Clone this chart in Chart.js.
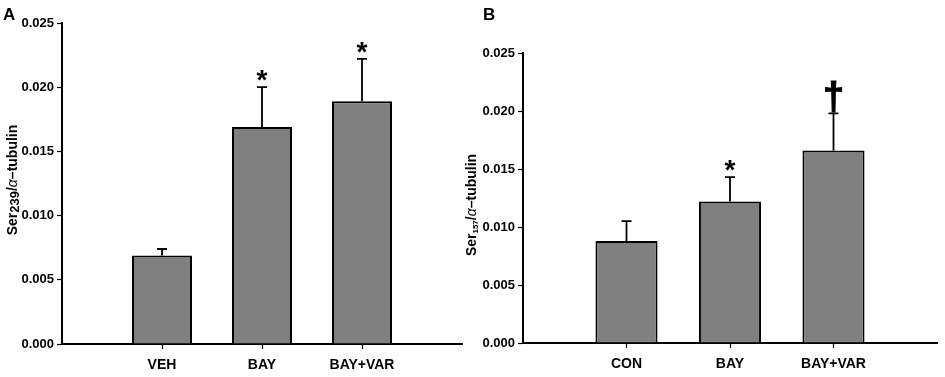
<!DOCTYPE html>
<html>
<head>
<meta charset="utf-8">
<script src="https://cdn.jsdelivr.net/npm/chart.js@4/dist/chart.umd.min.js"></script>
<style>
  body { margin: 0; background: #fff; }
  #wrap { position: relative; width: 945px; height: 377px; overflow: hidden; }
  canvas { position: absolute; top: 0; }
  #chartA { left: 0; }
  #chartB { left: 455px; }
</style>
</head>
<body>
<div id="wrap">
  <canvas id="chartA" width="470" height="377"></canvas>
  <canvas id="chartB" width="490" height="377"></canvas>
</div>
<script>
// panel A
const groupsA = ['VEH', 'BAY', 'BAY+VAR'];
const meansA = [0.0069, 0.0169, 0.0189];
const errorsA = [0.0005, 0.0031, 0.0033];
const marksA = ['', '*', '*'];

// panel B
const groupsB = ['CON', 'BAY', 'BAY+VAR'];
const meansB = [0.0088, 0.0122, 0.0166];
const errorsB = [0.0017, 0.0021, 0.0032];
const marksB = ['', '*', '\u2020'];

const yTickValues = [0, 0.005, 0.010, 0.015, 0.020, 0.025];

const FONT = "'Liberation Sans', Arial, sans-serif";

// blank slot on each side so the bars sit at 1, 2, 3 on a 0..4 axis
function padded(arr, blank) {
    return [blank].concat(arr, [blank]);
}

const errorBarPlugin = {
    id: 'errorBars',
    afterDatasetsDraw(chart, args, opts) {
        const ctx = chart.ctx;
        const meta = chart.getDatasetMeta(0);
        const yScale = chart.scales.y;
        ctx.save();
        ctx.strokeStyle = '#000';
        ctx.lineWidth = 1.8;
        opts.errors.forEach((err, i) => {
            const bar = meta.data[i + 1];
            const mean = opts.means[i];
            const yTop = yScale.getPixelForValue(mean + err);
            ctx.beginPath();
            ctx.moveTo(bar.x, bar.y);
            ctx.lineTo(bar.x, yTop);
            ctx.moveTo(bar.x - 5, yTop);
            ctx.lineTo(bar.x + 5, yTop);
            ctx.stroke();

            const mark = opts.marks[i];
            if (!mark) return;
            ctx.fillStyle = '#000';
            ctx.textAlign = 'center';
            ctx.textBaseline = 'alphabetic';
            if (mark === '*') {
                ctx.font = 'bold 28px ' + FONT;
                ctx.fillText(mark, bar.x, yTop + 2);
            } else {
                ctx.font = 'bold 38px ' + FONT;
                ctx.lineWidth = 1;
                ctx.fillText(mark, bar.x, yTop - 4);
                ctx.strokeText(mark, bar.x, yTop - 4);
            }
        });
        ctx.restore();
    }
};

const labelPlugin = {
    id: 'panelLabels',
    afterDraw(chart, args, opts) {
        const ctx = chart.ctx;
        ctx.save();
        ctx.fillStyle = '#000';
        // panel letter
        ctx.font = 'bold 17px ' + FONT;
        ctx.textAlign = 'left';
        ctx.textBaseline = 'alphabetic';
        ctx.fillText(opts.letter, opts.letterX, opts.letterY);

        // rotated y title built from pieces (for the subscript)
        let total = 0;
        opts.title.forEach(p => {
            ctx.font = p.font;
            total += ctx.measureText(p.text).width;
        });
        ctx.translate(opts.titleX, opts.titleY);
        ctx.rotate(-Math.PI / 2);
        ctx.textBaseline = 'middle';
        let x = -total / 2;
        opts.title.forEach(p => {
            ctx.font = p.font;
            ctx.fillText(p.text, x, p.dy || 0);
            x += ctx.measureText(p.text).width;
        });
        ctx.restore();
    }
};

function makeOptions(cfg) {
    return {
        responsive: false,
        animation: false,
        layout: { padding: cfg.padding },
        plugins: {
            legend: { display: false },
            tooltip: { enabled: false },
            errorBars: { means: cfg.means, errors: cfg.errors, marks: cfg.marks },
            panelLabels: cfg.labels
        },
        scales: {
            x: {
                offset: false,
                grid: {
                    offset: false,
                    drawOnChartArea: false,
                    tickLength: 5,
                    tickWidth: 1.2,
                    tickColor: ctx => (ctx.index === 0 || ctx.index === 4) ? 'rgba(0,0,0,0)' : '#000'
                },
                border: { color: '#000', width: 2 },
                ticks: {
                    color: '#000',
                    font: { family: FONT, size: 14, weight: 'bold' },
                    padding: 8,
                    maxRotation: 0,
                    autoSkip: false
                },
                afterFit: s => { s.height = cfg.xHeight; }
            },
            y: {
                min: 0,
                max: 0.025,
                afterBuildTicks: s => { s.ticks = yTickValues.map(v => ({ value: v })); },
                grid: { drawOnChartArea: false, tickLength: 5, tickWidth: 1.2, tickColor: '#000' },
                border: { color: '#000', width: 2 },
                ticks: {
                    color: '#000',
                    font: { family: FONT, size: 13, weight: 'bold' },
                    padding: 3,
                    callback: v => v.toFixed(3)
                },
                afterFit: s => { s.width = cfg.yWidth; }
            }
        }
    };
}

function barData(groups, means) {
    return {
        labels: padded(groups, ''),
        datasets: [{
            data: padded(means, null),
            backgroundColor: '#808080',
            borderColor: '#000',
            borderWidth: 2,
            barPercentage: 0.6,
            categoryPercentage: 1.0
        }]
    };
}

new Chart(document.getElementById('chartA'), {
    type: 'bar',
    data: barData(groupsA, meansA),
    options: makeOptions({
        means: meansA, errors: errorsA, marks: marksA,
        padding: { left: 0, right: 4, top: 23, bottom: 0 },
        yWidth: 62, xHeight: 33,
        labels: {
            letter: 'A', letterX: 3, letterY: 20,
            titleX: 13, titleY: 180,
            title: [
                { text: 'Ser', font: 'bold 14px ' + FONT },
                { text: '239', font: 'bold 13px ' + FONT, dy: 2 },
                { text: '/', font: 'bold 14px ' + FONT },
                { text: '\u03b1', font: 'italic 14px ' + FONT },
                { text: '\u2013tubulin', font: 'bold 14px ' + FONT }
            ]
        }
    }),
    plugins: [errorBarPlugin, labelPlugin]
});

new Chart(document.getElementById('chartB'), {
    type: 'bar',
    data: barData(groupsB, meansB),
    options: makeOptions({
        means: meansB, errors: errorsB, marks: marksB,
        padding: { left: 0, right: 8, top: 53, bottom: 0 },
        yWidth: 68, xHeight: 34,
        labels: {
            letter: 'B', letterX: 28, letterY: 20,
            titleX: 17, titleY: 205,
            title: [
                { text: 'Ser', font: 'bold 14px ' + FONT },
                { text: '157', font: 'bold 8px ' + FONT, dy: 4 },
                { text: '/', font: 'bold 14px ' + FONT },
                { text: '\u03b1', font: 'italic 14px ' + FONT },
                { text: '\u2013tubulin', font: 'bold 14px ' + FONT }
            ]
        }
    }),
    plugins: [errorBarPlugin, labelPlugin]
});
</script>
</body>
</html>
